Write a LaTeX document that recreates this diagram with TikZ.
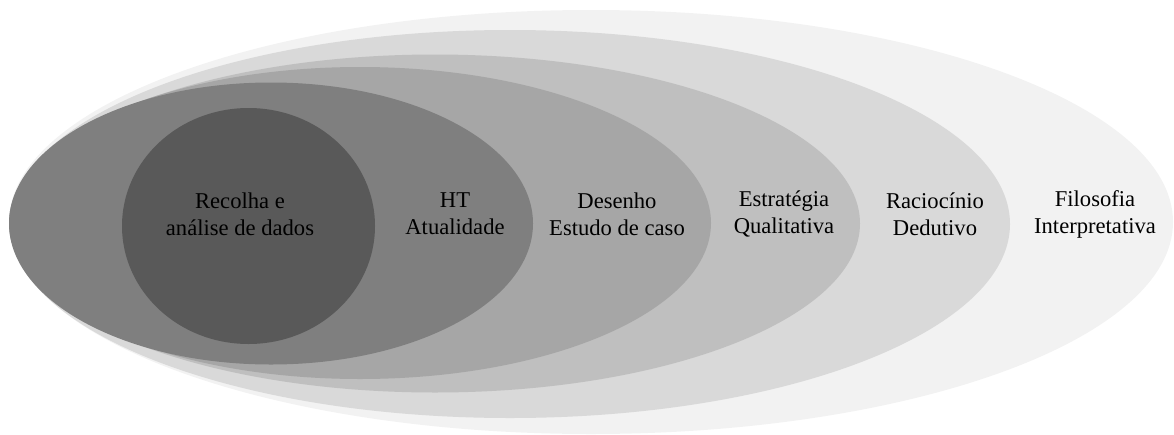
\documentclass[tikz,border=0pt]{standalone}
\usepackage{fontspec}
\setmainfont{Liberation Serif}
\definecolor{g1}{HTML}{F2F2F2}
\definecolor{g2}{HTML}{D9D9D9}
\definecolor{g3}{HTML}{BFBFBF}
\definecolor{g4}{HTML}{A6A6A6}
\definecolor{g5}{HTML}{7F7F7F}
\definecolor{g6}{HTML}{595959}
\tikzset{
  lbl/.style={align=center, inner sep=0pt, text=black,
    font=\fontsize{22.6}{27}\selectfont}
}
\begin{document}
\begin{tikzpicture}[x=1pt,y=-1pt]
\useasboundingbox (0,0) rectangle (1174,434);
\fill[g1] (591,222) ellipse [x radius=582, y radius=212];
\fill[g2] (510,224) ellipse [x radius=500, y radius=194];
\fill[g3] (435,223.5) ellipse [x radius=425, y radius=169];
\fill[g4] (360,223) ellipse [x radius=351, y radius=156];
\fill[g5] (271,223.5) ellipse [x radius=262, y radius=141];
\fill[g6] (248.5,226) ellipse [x radius=126.5, y radius=118];
\node[lbl] (dados) at (240,214) {Recolha e\\análise de dados};
\node[lbl] (ht) at (455,214) {HT\\Atualidade};
\node[lbl] (desenho) at (617,214) {Desenho\\Estudo de caso};
\node[lbl] (estrategia) at (784,214) {Estratégia\\Qualitativa};
\node[lbl] (raciocinio) at (935,214) {Raciocínio\\Dedutivo};
\node[lbl] (filosofia) at (1095,214) {Filosofia\\Interpretativa};
\end{tikzpicture}
\end{document}
